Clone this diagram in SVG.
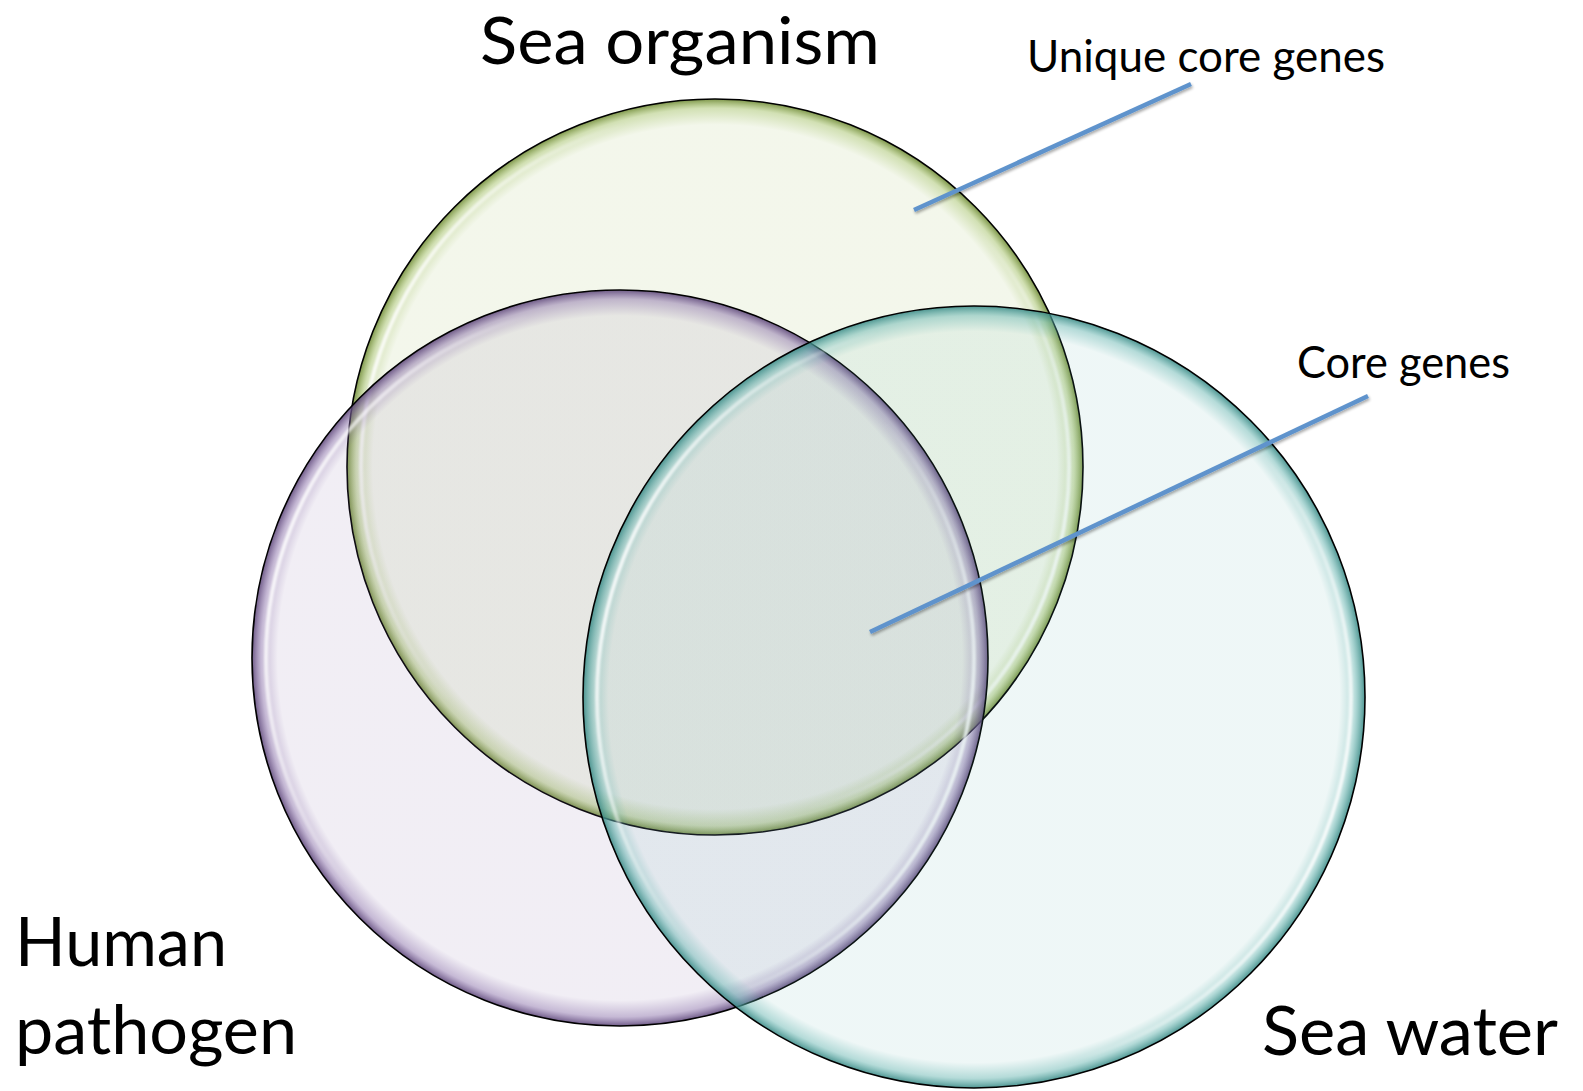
<svg xmlns="http://www.w3.org/2000/svg" width="1583" height="1091" viewBox="0 0 1583 1091">
<style>
.lbl{font-family:Lato,"Liberation Sans",sans-serif;fill:#000}
.big{font-size:67px}
.small{font-size:44px}
.ring{stroke:#000;stroke-width:1.6}
.hl{fill:none;stroke-width:4}
.lead{stroke:#5f93cc;stroke-width:4.5;stroke-linecap:butt;filter:url(#sh)}
</style>
<defs>
<radialGradient id="gG" cx="0.5" cy="0.5" r="0.5">
<stop offset="0" stop-color="#9bbb59" stop-opacity="0.12"/>
<stop offset="0.93" stop-color="#9bbb59" stop-opacity="0.12"/>
<stop offset="0.975" stop-color="#9bbb59" stop-opacity="0.45"/>
<stop offset="1" stop-color="#6f8a36" stop-opacity="0.9"/>
</radialGradient>
<radialGradient id="gP" cx="0.5" cy="0.5" r="0.5">
<stop offset="0" stop-color="#8064a2" stop-opacity="0.11"/>
<stop offset="0.93" stop-color="#8064a2" stop-opacity="0.11"/>
<stop offset="0.975" stop-color="#8064a2" stop-opacity="0.45"/>
<stop offset="1" stop-color="#5f497a" stop-opacity="0.9"/>
</radialGradient>
<radialGradient id="gT" cx="0.5" cy="0.5" r="0.5">
<stop offset="0" stop-color="#5aafaa" stop-opacity="0.1"/>
<stop offset="0.935" stop-color="#5aafaa" stop-opacity="0.1"/>
<stop offset="0.975" stop-color="#5aafaa" stop-opacity="0.45"/>
<stop offset="1" stop-color="#3b8a86" stop-opacity="0.9"/>
</radialGradient>
<linearGradient id="hlg" x1="0" y1="0.35" x2="1" y2="0.65">
<stop offset="0" stop-color="#fff" stop-opacity="0.9"/>
<stop offset="0.25" stop-color="#fff" stop-opacity="0"/>
<stop offset="0.75" stop-color="#fff" stop-opacity="0"/>
<stop offset="1" stop-color="#fff" stop-opacity="0.9"/>
</linearGradient>
<filter id="blur" x="-5%" y="-5%" width="110%" height="110%"><feGaussianBlur stdDeviation="1.2"/></filter>
<filter id="sh" x="-10%" y="-10%" width="120%" height="130%">
<feGaussianBlur in="SourceAlpha" stdDeviation="1.5"/>
<feOffset dx="1" dy="2" result="o"/>
<feComponentTransfer><feFuncA type="linear" slope="0.35"/></feComponentTransfer>
<feMerge><feMergeNode/><feMergeNode in="SourceGraphic"/></feMerge>
</filter>
</defs>
<rect width="1583" height="1091" fill="#fff"/>
<g id="sea-organism">
<circle class="ring" cx="715" cy="467" r="368" fill="url(#gG)"/>
<circle class="hl" cx="715" cy="467" r="354" stroke="url(#hlg)" filter="url(#blur)"/>
<text class="lbl" style="font-size:65px" x="480" y="64" textLength="400" lengthAdjust="spacingAndGlyphs">Sea organism</text>
</g>
<g id="human-pathogen">
<circle class="ring" cx="620" cy="658" r="368" fill="url(#gP)"/>
<circle class="hl" cx="620" cy="658" r="354" stroke="url(#hlg)" filter="url(#blur)"/>
<text class="lbl big" x="15" y="966" textLength="212" lengthAdjust="spacingAndGlyphs">Human</text>
<text class="lbl big" x="15" y="1054" textLength="282" lengthAdjust="spacingAndGlyphs">pathogen</text>
</g>
<g id="sea-water">
<circle class="ring" cx="974" cy="697" r="391" fill="url(#gT)"/>
<circle class="hl" cx="974" cy="697" r="377" stroke="url(#hlg)" filter="url(#blur)"/>
<text class="lbl big" x="1262" y="1055" textLength="296" lengthAdjust="spacingAndGlyphs">Sea water</text>
</g>
<g id="connectors">
<line class="lead" x1="914" y1="210" x2="1191" y2="84"/>
<line class="lead" x1="870" y1="632" x2="1368" y2="396"/>
</g>
<g id="labels">
<text class="lbl small" x="1027" y="72" textLength="358" lengthAdjust="spacingAndGlyphs">Unique core genes</text>
<text class="lbl small" x="1297" y="378" textLength="213" lengthAdjust="spacingAndGlyphs">Core genes</text>
</g>
</svg>
